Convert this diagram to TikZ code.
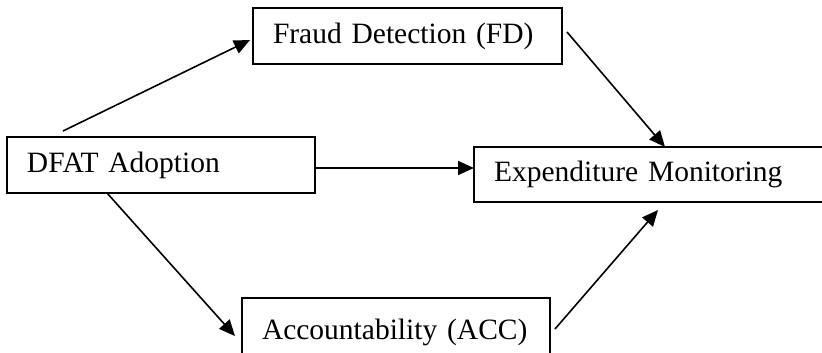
\documentclass[tikz,border=0pt]{standalone}
\usepackage{fontspec}
\setmainfont{Liberation Serif}
\usetikzlibrary{arrows.meta}
\begin{document}
\begin{tikzpicture}[x=1pt,y=-1pt,
  box/.style={draw, line width=1.6pt, anchor=north west, inner xsep=20pt, inner ysep=0pt,
    align=left, outer sep=0pt, font=\fontsize{29.5}{32}\selectfont},
  arr/.style={line width=1.6pt, -{Triangle[length=16pt,width=14pt]}}]
\useasboundingbox (0,0) rectangle (822,353);
\node[box, text width=269pt, minimum height=56pt] (fd) at (253,8) {Fraud Detection (FD)};
\node[box, text width=268pt, minimum height=56pt] (dfat) at (7,137) {DFAT Adoption};
\node[box, text width=309pt, minimum height=55pt] (em) at (474,147) {Expenditure Monitoring};
\node[box, text width=268pt, minimum height=68pt] (acc) at (242,298) {Accountability (ACC)};
\coordinate (s1) at (63,131);  \coordinate (t1) at (250,40);
\coordinate (s2) at (567,32);  \coordinate (t2) at (665,147);
\coordinate (s3) at (315,168); \coordinate (t3) at (474,168);
\coordinate (s4) at (107,193); \coordinate (t4) at (235,336);
\coordinate (s5) at (555,329); \coordinate (t5) at (658,210);
\draw[arr] (s1) -- (t1);
\draw[arr] (s2) -- (t2);
\draw[arr] (s3) -- (t3);
\draw[arr] (s4) -- (t4);
\draw[arr] (s5) -- (t5);
\end{tikzpicture}
\end{document}
